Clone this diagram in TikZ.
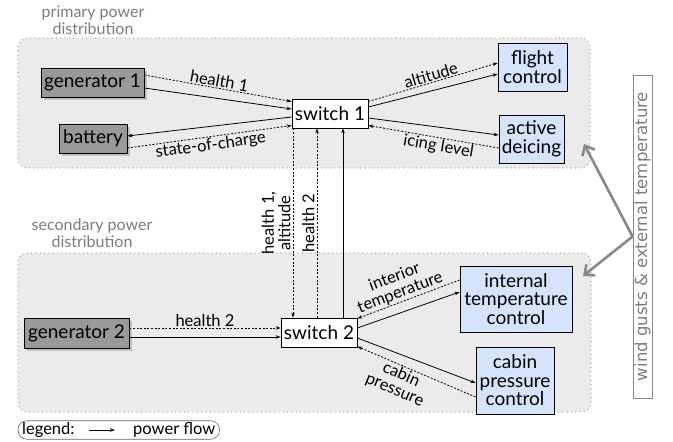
\documentclass[tikz,border=0pt]{standalone}
\usepackage{fontspec}
\setmainfont{Lato}
\newfontfamily\notefont{DejaVu Sans}
\usetikzlibrary{arrows.meta,shadows,fit}

\definecolor{regionfill}{HTML}{EBEBEB}
\definecolor{regionline}{HTML}{9A9A9A}
\definecolor{unitfill}{HTML}{999999}
\definecolor{loadfill}{HTML}{D5E3FD}
\definecolor{captiongray}{HTML}{7C7C7C}
\definecolor{gustgray}{HTML}{888888}

\begin{document}
\begin{tikzpicture}[x=1pt,y=-1pt,
  region/.style={draw=regionline, fill=regionfill, line width=1.3pt,
    dash pattern=on 0pt off 4.3pt, line cap=round, rounded corners=9pt,
    inner sep=0pt},
  caption/.style={text=captiongray, align=center, font=\fontsize{16}{17}\selectfont},
  box/.style={draw=black, line width=0.8pt, inner sep=0pt, align=center,
    font=\fontsize{19}{18.5}\selectfont},
  source/.style={box, fill=unitfill,
    drop shadow={shadow xshift=2.5pt, shadow yshift=-2.5pt, opacity=0.4}},
  hub/.style={box, fill=white},
  load/.style={box, fill=loadfill},
  power/.style={line width=0.8pt, -{Stealth[length=5pt,width=3.5pt]}},
  info/.style={line width=0.8pt, dash pattern=on 2pt off 1.6pt,
    -{Stealth[length=5pt,width=3.5pt]}},
  lbl/.style={font=\fontsize{16.5}{16.5}\selectfont, inner sep=1pt, align=center},
  gust/.style={draw=gustgray, line width=2.6pt,
    -{Straight Barb[length=8pt,width=14pt,line width=2.6pt]}}
]
\useasboundingbox (0,0) rectangle (673,442);

% distribution regions
\node[region, minimum width=572pt, minimum height=130pt] (primary) at (304,103) {};
\node[region, minimum width=573pt, minimum height=159pt] (secondary) at (304.5,332.5) {};
\node[caption] (primcap) at (93,20) {primary power\\distribution};
\node[caption] (seccap) at (92,233) {secondary power\\distribution};

% primary units
\node[source, minimum width=103pt, minimum height=29pt] (gen1) at (92.5,82.5) {generator 1};
\node[source, minimum width=68pt, minimum height=29pt] (battery) at (93,138.5) {battery};
\node[hub, minimum width=76pt, minimum height=29pt] (sw1) at (330,113.5) {switch 1};
\node[load, minimum width=69pt, minimum height=48pt] (flight) at (532.5,67) {flight\\control};
\node[load, minimum width=65pt, minimum height=48pt] (deice) at (531.5,139) {active\\deicing};

% secondary units
\node[source, minimum width=105pt, minimum height=30pt] (gen2) at (76.5,333) {generator 2};
\node[hub, minimum width=76pt, minimum height=29pt] (sw2) at (319,332.5) {switch 2};
\node[load, minimum width=112pt, minimum height=66pt] (itemp) at (516,299) {internal\\temperature\\control};
\node[load, minimum width=78pt, minimum height=67pt] (cabin) at (515,380.5) {cabin\\pressure\\control};

% primary connections
\draw[info] ([yshift=7.5pt]gen1.east) -- ([yshift=12pt]sw1.west)
  node[lbl, midway, above, sloped] {health 1};
\draw[power] ([yshift=-5.5pt]gen1.east) -- ([yshift=4.5pt]sw1.west);
\draw[power] ([yshift=-3.5pt]sw1.west) -- ([yshift=2.5pt]battery.east);
\draw[info] ([yshift=-9.5pt]battery.east) -- ([yshift=-12pt]sw1.west)
  node[lbl, midway, below, sloped] {state-of-charge};
\draw[info] ([yshift=12pt]sw1.east) -- ([yshift=4pt]flight.west)
  node[lbl, midway, above, sloped] {altitude};
\draw[power] ([yshift=6.5pt]sw1.east) -- ([yshift=-7pt]flight.west);
\draw[power] ([yshift=-4.5pt]sw1.east) -- ([yshift=4pt]deice.west);
\draw[info] ([yshift=-9pt]deice.west) -- ([yshift=-12pt]sw1.east)
  node[lbl, pos=0.45, below, sloped] {icing level};

% links between the switches
\draw[info] ([xshift=-37pt]sw1.south) -- ([xshift=-26pt]sw2.north)
  node[lbl, midway, rotate=90, anchor=south, yshift=1pt] {health 1,\\altitude};
\draw[info] ([xshift=-2pt]sw2.north) -- ([xshift=-13pt]sw1.south)
  node[lbl, midway, rotate=90, anchor=south, yshift=1pt] {health 2};
\draw[power] ([xshift=24pt]sw2.north) -- ([xshift=13pt]sw1.south);

% secondary connections
\draw[info] ([yshift=5pt]gen2.east) -- ([yshift=4.5pt]sw2.west)
  node[lbl, midway, above] {health 2};
\draw[power] ([yshift=-4pt]gen2.east) -- ([yshift=-4.5pt]sw2.west);
\draw[power] ([yshift=4.5pt]sw2.east) -- ([yshift=7pt]itemp.west);
\draw[info] ([yshift=19pt]itemp.west) -- ([yshift=14pt]sw2.east)
  node[lbl, pos=0.55, above, sloped] {interior\\temperature};
\draw[power] ([yshift=-5.5pt]sw2.east) -- ([yshift=-2.5pt]cabin.west);
\draw[info] ([yshift=-16.5pt]cabin.west) -- ([yshift=-14pt]sw2.east)
  node[lbl, pos=0.6, below, sloped] {cabin\\pressure};

% external disturbances
\node[draw=gustgray, line width=0.8pt, text=captiongray, rotate=90,
  minimum width=323pt, minimum height=19pt, inner sep=0pt,
  font=\notefont\fontsize{16.5}{16}\selectfont] (gusts) at (642.5,236.5)
  {wind gusts \& external temperature};
\coordinate (gustA) at (584,144);
\coordinate (gustB) at (583,276);
\draw[gust] (gusts.north) -- (gustA);
\draw[gust] (gusts.north) -- (gustB);

% legend
\node[font=\fontsize{16.5}{16}\selectfont, anchor=west, inner sep=0pt] (legtext) at (22,430) {legend:};
\node[font=\fontsize{16.5}{16}\selectfont, anchor=west, inner sep=0pt] (legflow) at (133,430) {power flow};
\draw[power] ([xshift=14pt]legtext.east) -- ([xshift=-18pt]legflow.west);
\node[draw=black!60, line width=0.6pt, rounded corners=9pt, inner xsep=4pt,
  inner ysep=1.5pt, fit=(legtext)(legflow)] (legend) {};
\end{tikzpicture}
\end{document}
